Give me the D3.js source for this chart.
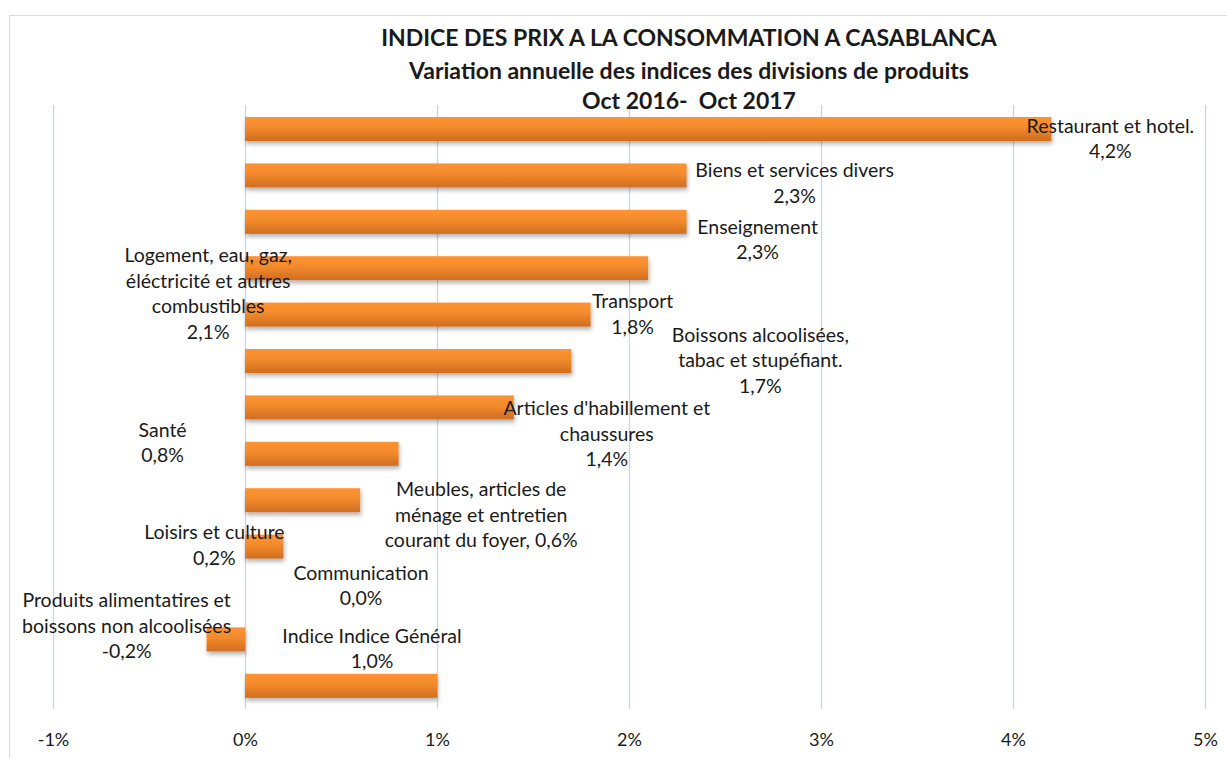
<!DOCTYPE html>
<html>
<head>
<meta charset="utf-8">
<script src="https://cdn.jsdelivr.net/npm/d3@7"></script>
<style>
  body { margin: 0; background: #fff; }
  text { font-family: Lato, "Open Sans", sans-serif; fill: #1a1a1a; }
</style>
</head>
<body>
<div id="wrapper"></div>
<script>
const categories = [
  "Restaurant et hotel.",
  "Biens et services divers",
  "Enseignement",
  "Logement, eau, gaz, éléctricité et autres combustibles",
  "Transport",
  "Boissons alcoolisées, tabac et stupéfiant.",
  "Articles d'habillement et chaussures",
  "Santé",
  "Meubles, articles de ménage et entretien courant du foyer,",
  "Loisirs et culture",
  "Communication",
  "Produits alimentatires et boissons non alcoolisées",
  "Indice Indice Général",
];
const values = [4.2, 2.3, 2.3, 2.1, 1.8, 1.7, 1.4, 0.8, 0.6, 0.2, 0.0, -0.2, 1.0];
const labelLines = [
  ["Restaurant et hotel."],
  ["Biens et services divers"],
  ["Enseignement"],
  ["Logement, eau, gaz,", "éléctricité et autres", "combustibles"],
  ["Transport"],
  ["Boissons alcoolisées,", "tabac et stupéfiant."],
  ["Articles d'habillement et", "chaussures"],
  ["Santé"],
  ["Meubles, articles de", "ménage et entretien", "courant du foyer,"],
  ["Loisirs et culture"],
  ["Communication"],
  ["Produits alimentatires et", "boissons non alcoolisées"],
  ["Indice Indice Général"],
];
const tickValues = [-1, 0, 1, 2, 3, 4, 5];
const titleLines = [
  "INDICE DES PRIX A LA CONSOMMATION A CASABLANCA",
  "Variation annuelle des indices des divisions de produits",
  "Oct 2016-  Oct 2017",
];

// label nudges (px) relative to the bar end, moved by hand like in the original
const labelNudge = [
  [59, -3], [108, -5], [71, 5], [-440, -13], [42, -13], [189, -26],
  [93, 1], [-236, -24], [121, -11], [-69, -14], [116, -20], [-80, -39], [-65, -50],
];

const data = categories.map((c, i) => ({
  name: c,
  value: values[i],
  lines: labelLines[i],
  nudge: labelNudge[i],
}));

const width = 1227;
const height = 758;
const lineHeight = 25.5;

const svg = d3
  .select("#wrapper")
  .append("svg")
  .attr("width", width)
  .attr("height", height);

const defs = svg.append("defs");
const grad = defs
  .append("linearGradient")
  .attr("id", "barGrad")
  .attr("x1", 0)
  .attr("x2", 0)
  .attr("y1", 0)
  .attr("y2", 1);
grad.append("stop").attr("offset", "0%").attr("stop-color", "#fd9332");
grad.append("stop").attr("offset", "45%").attr("stop-color", "#f38a2c");
grad.append("stop").attr("offset", "100%").attr("stop-color", "#cf6d1f");

const shadow = defs
  .append("filter")
  .attr("id", "shadow")
  .attr("x", "-10%")
  .attr("y", "-30%")
  .attr("width", "120%")
  .attr("height", "180%");
shadow
  .append("feDropShadow")
  .attr("dx", 1)
  .attr("dy", 3)
  .attr("stdDeviation", 2)
  .attr("flood-color", "#000")
  .attr("flood-opacity", 0.3);

// chart frame
svg
  .append("rect")
  .attr("x", 9.5)
  .attr("y", 15.5)
  .attr("width", width + 20)
  .attr("height", height)
  .attr("fill", "none")
  .attr("stroke", "#d2dcea")
  .attr("stroke-width", 1);

const xScale = d3.scaleLinear().domain([-1, 5]).range([53, 1205]);

const yScale = d3
  .scaleBand()
  .domain(categories)
  .range([105.8, 709])
  .paddingInner(0.483)
  .paddingOuter(0.2415);

// gridlines
svg
  .append("g")
  .attr("class", "grid")
  .selectAll("line")
  .data(tickValues)
  .join("line")
  .attr("x1", (d) => Math.round(xScale(d)) + 0.5)
  .attr("x2", (d) => Math.round(xScale(d)) + 0.5)
  .attr("y1", 105)
  .attr("y2", 709)
  .attr("stroke", "#c4d6f0")
  .attr("stroke-width", 1.3);

// x axis labels
const xAxis = d3
  .axisBottom(xScale)
  .tickValues(tickValues)
  .tickSize(0)
  .tickPadding(0)
  .tickFormat((d) => (d < 0 ? "-" + -d : d) + "%");

svg
  .append("g")
  .attr("transform", "translate(0, 733)")
  .call(xAxis)
  .call((g) => g.select(".domain").remove())
  .call((g) =>
    g
      .selectAll("text")
      .attr("fill", "#1a1a1a")
      .style("font-size", "18px")
      .style("font-family", "Lato, sans-serif")
  );

// bars
svg
  .append("g")
  .selectAll("rect")
  .data(data.filter((d) => d.value !== 0))
  .join("rect")
  .attr("x", (d) => xScale(Math.min(0, d.value)))
  .attr("y", (d) => yScale(d.name))
  .attr("width", (d) => Math.abs(xScale(d.value) - xScale(0)))
  .attr("height", yScale.bandwidth())
  .attr("fill", "url(#barGrad)")
  .attr("filter", "url(#shadow)");

// data labels
const pct = (v) =>
  d3.format(".1f")(v).replace(".", ",").replace("\u2212", "-") + "%";

const labels = svg
  .append("g")
  .selectAll("text")
  .data(data)
  .join("text")
  .attr("text-anchor", "middle")
  .style("font-size", "19.5px")
  .attr(
    "transform",
    (d) =>
      `translate(${xScale(d.value) + d.nudge[0]}, ${
        yScale(d.name) + yScale.bandwidth() / 2 + d.nudge[1]
      })`
  );

labels.each(function (d) {
  const lines = d.lines.slice();
  const last = lines[lines.length - 1];
  if (last.endsWith(",")) lines[lines.length - 1] = last + " " + pct(d.value);
  else lines.push(pct(d.value));
  d3.select(this)
    .selectAll("tspan")
    .data(lines)
    .join("tspan")
    .attr("x", 0)
    .attr("y", (l, i) => i * lineHeight)
    .attr("dy", "0.35em")
    .text((l) => l);
});

// title
svg
  .append("g")
  .selectAll("text")
  .data(titleLines)
  .join("text")
  .attr("x", 689)
  .attr("y", (d, i) => [38, 71, 101][i])
  .attr("dy", "0.35em")
  .attr("text-anchor", "middle")
  .style("font-size", "23px")
  .style("font-weight", "bold")
  .style("white-space", "pre")
  .text((d) => d);
</script>
</body>
</html>
